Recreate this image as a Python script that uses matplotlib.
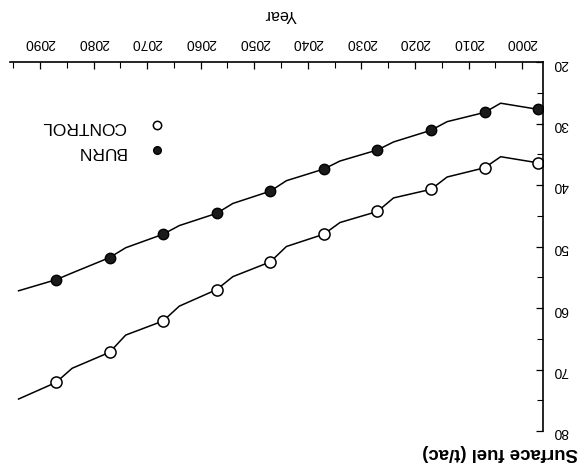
import matplotlib.pyplot as plt
from matplotlib.ticker import MultipleLocator
from matplotlib.lines import Line2D

plt.rcParams['font.family'] = ['Liberation Sans', 'DejaVu Sans']

# the scanned figure is upside down, so the axes are drawn reversed
years = [1997, 2004, 2007, 2014, 2017, 2024, 2027, 2034, 2037, 2044,
         2047, 2054, 2057, 2064, 2067, 2074, 2077, 2084, 2087, 2094]
burn = [27.7, 26.7, 28.2, 29.7, 31.1, 33.0, 34.3, 36.1, 37.4, 39.3,
        41.0, 43.0, 44.6, 46.6, 48.0, 50.2, 51.8, 54.3, 55.4, 57.2]
control = [36.4, 35.4, 37.2, 38.7, 40.7, 42.1, 44.3, 46.1, 48.0, 50.0,
           52.5, 54.9, 57.0, 59.7, 62.1, 64.4, 67.2, 69.8, 72.1, 74.8]
marker_years = [1997, 2007, 2017, 2027, 2037, 2047, 2057, 2067, 2077, 2087]
xticks = [2000, 2010, 2020, 2030, 2040, 2050, 2060, 2070, 2080, 2090]
yticks = [20, 30, 40, 50, 60, 70, 80]

marks = [years.index(y) for y in marker_years]

fig = plt.figure(figsize=(5.8, 4.76), dpi=100)
ax = fig.add_axes([10 / 580, 1 - 431 / 476, 533 / 580, 369 / 476])

ax.plot(years, burn, color='black', lw=1.1, marker='o', markevery=marks,
        ms=7.5, mfc='#1a1a1a', mec='black', mew=1.0)
ax.plot(years, control, color='black', lw=1.1, marker='o', markevery=marks,
        ms=8, mfc='white', mec='black', mew=1.1)

ax.set_xlim(2095.6, 1996.1)
ax.set_ylim(80, 20)

for s in ['left', 'bottom']:
    ax.spines[s].set_visible(False)
for s in ['top', 'right']:
    ax.spines[s].set_linewidth(1.2)

ax.xaxis.tick_top()
ax.yaxis.tick_right()
ax.set_xticks(xticks)
ax.set_yticks(yticks)
ax.xaxis.set_minor_locator(MultipleLocator(5))
ax.yaxis.set_minor_locator(MultipleLocator(5))
ax.tick_params(which='major', direction='in', length=5, width=0.9,
               labelsize=10, labelrotation=180)
ax.tick_params(which='minor', direction='in', length=4, width=0.8)
ax.tick_params(axis='x', pad=8.5)
ax.tick_params(axis='y', pad=7)

fig.text(280 / 580, 1 - 14 / 476, 'Year', rotation=180, fontsize=11.5,
         ha='center', va='center')
fig.text(578 / 580, 1 - 453 / 476, 'Surface fuel (t/ac)', rotation=180,
         fontsize=13.4, fontweight='bold', ha='right', va='center')

handles = [
    Line2D([], [], ls='none', marker='o', ms=6, mfc='white', mec='black', mew=1.1),
    Line2D([], [], ls='none', marker='o', ms=5.5, mfc='#1a1a1a', mec='black', mew=1.0),
]
leg = ax.legend(handles, ['CONTROL', 'BURN'], loc='center', frameon=False,
                markerfirst=False, fontsize=12.5, labelspacing=0.6,
                handletextpad=0.9, handlelength=1.8,
                bbox_to_anchor=(107 / 580, 1 - 139 / 476),
                bbox_transform=fig.transFigure)
for t in leg.get_texts():
    t.set_rotation(180)

fig.savefig('out.png', dpi=100)
